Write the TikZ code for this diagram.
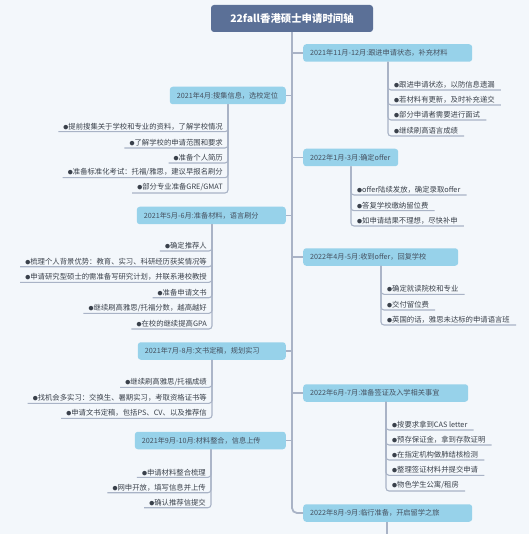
\documentclass[tikz,border=0pt]{standalone}
\usepackage{fontspec}
\setmainfont{Noto Sans CJK SC}
\definecolor{bgc}{HTML}{F3F7FB}
\definecolor{titlec}{HTML}{5B7097}
\definecolor{topicc}{HTML}{97D2EA}
\definecolor{topictext}{HTML}{45505F}
\definecolor{itemtext}{HTML}{3A414B}
\definecolor{linec}{HTML}{A9B3C6}
\newcommand\bul{{\fontsize{5}{5}\selectfont ●}}
\begin{document}
\begin{tikzpicture}[x=1pt,y=-1pt,
  titlebox/.style={fill=titlec, rounded corners=3pt, text=white,
    font=\fontsize{10.4}{12}\selectfont\bfseries, minimum width=162pt,
    minimum height=27pt, inner sep=0pt},
  topic/.style={fill=topicc, rounded corners=3pt, text=topictext,
    font=\fontsize{7.2}{9}\selectfont, minimum height=17.5pt,
    inner xsep=7pt, inner ysep=0pt, align=left},
  ritem/.style={anchor=south west, inner xsep=6pt, inner ysep=1.5pt,
    font=\fontsize{7.35}{8}\selectfont, text=itemtext},
  litem/.style={anchor=south east, inner xsep=5pt, inner ysep=1.5pt,
    font=\fontsize{7.35}{8}\selectfont, text=itemtext},
  branch/.style={draw=linec, line width=1.1pt, rounded corners=3pt},
  trunk/.style={draw=linec, line width=1.8pt, rounded corners=5pt}]
\fill[bgc] (0,0) rectangle (529,534);
\useasboundingbox (0,0) rectangle (529,534);

% title
\node[titlebox] (title) at (292,18.5) {22fall香港硕士申请时间轴};

% topics (right)
\node[topic, anchor=west, text width=155pt] (r1) at (303,53) {2021年11月-12月:跟进申请状态，补充材料};
\node[topic, anchor=west, text width=81pt] (r2) at (303,157.5) {2022年1月-3月:确定offer};
\node[topic, anchor=west, text width=141pt] (r3) at (303,257) {2022年4月-5月:收到offer，回复学校};
\node[topic, anchor=west, text width=151pt] (r4) at (303,393) {2022年6月-7月:准备签证及入学相关事宜};
\node[topic, anchor=west, text width=155pt] (r5) at (303,513) {2022年8月-9月:临行准备，开启留学之旅};
% topics (left)
\node[topic, anchor=east, text width=102pt] (l1) at (286,95.5) {2021年4月:搜集信息，选校定位};
\node[topic, anchor=east, text width=135pt] (l2) at (286,215.5) {2021年5月-6月:准备材料，语言刷分};
\node[topic, anchor=east, text width=134pt] (l3) at (286,351) {2021年7月-8月:文书定稿，规划实习};
\node[topic, anchor=east, text width=137pt] (l4) at (286,440.5) {2021年9月-10月:材料整合，信息上传};

% trunk and branches
\draw[trunk] (title.south) |- (r5.west);
\draw[branch] (title.south |- r1.west) -- (r1.west);
\draw[branch] (title.south |- r2.west) -- (r2.west);
\draw[branch] (title.south |- r3.west) -- (r3.west);
\draw[branch] (title.south |- r4.west) -- (r4.west);
\draw[branch] (title.south |- l1.east) -- (l1.east);
\draw[branch] (title.south |- l2.east) -- (l2.east);
\draw[branch] (title.south |- l3.east) -- (l3.east);
\draw[branch] (title.south |- l4.east) -- (l4.east);

% R1 items
\node[ritem] (r1a) at (388,90) {\bul 跟进申请状态，以防信息遗漏};
\node[ritem] (r1b) at (388,105) {\bul 若材料有更新，及时补充递交};
\node[ritem] (r1c) at (388,120) {\bul 部分申请者需要进行面试};
\node[ritem] (r1d) at (388,136) {\bul 继续刷高语言成绩};
\foreach \i in {r1a,r1b,r1c,r1d}
  \draw[branch] (r1.south -| \i.south west) |- (\i.south east);

% R2 items
\node[ritem] (r2a) at (351,195) {\bul offer陆续发放，确定录取offer};
\node[ritem] (r2b) at (351,210.7) {\bul 答复学校缴纳留位费};
\node[ritem] (r2c) at (351,226) {\bul 如申请结果不理想，尽快补申};
\foreach \i in {r2a,r2b,r2c}
  \draw[branch] (r2.south -| \i.south west) |- (\i.south east);

% R3 items
\node[ritem] (r3a) at (381,294.3) {\bul 确定就读院校和专业};
\node[ritem] (r3b) at (381,310) {\bul 交付留位费};
\node[ritem] (r3c) at (381,325) {\bul 英国的话，雅思未达标的申请语言班};
\foreach \i in {r3a,r3b,r3c}
  \draw[branch] (r3.south -| \i.south west) |- (\i.south east);

% R4 items
\node[ritem] (r4a) at (386,430) {\bul 按要求拿到CAS letter};
\node[ritem] (r4b) at (386,445) {\bul 预存保证金，拿到存款证明};
\node[ritem] (r4c) at (386,460) {\bul 在指定机构做肺结核检测};
\node[ritem] (r4d) at (386,475.3) {\bul 整理签证材料并提交申请};
\node[ritem] (r4e) at (386,491) {\bul 物色学生公寓/租房};
\foreach \i in {r4a,r4b,r4c,r4d,r4e}
  \draw[branch] (r4.south -| \i.south west) |- (\i.south east);

% R5 continuation
\coordinate (r5end) at (387,534);
\draw[branch] (r5.south -| r5end) -- (r5end);

% L1 items
\node[litem] (l1a) at (228,131.7) {\bul 提前搜集关于学校和专业的资料，了解学校情况};
\node[litem] (l1b) at (228,148) {\bul 了解学校的申请范围和要求};
\node[litem] (l1c) at (228,163) {\bul 准备个人简历};
\node[litem] (l1d) at (228,177.7) {\bul 准备标准化考试：托福/雅思，建议早报名刷分};
\node[litem] (l1e) at (228,193) {\bul 部分专业准备GRE/GMAT};
\foreach \i in {l1a,l1b,l1c,l1d,l1e}
  \draw[branch] (l1.south -| \i.south east) |- (\i.south west);

% L2 items
\node[litem] (l2a) at (212,251) {\bul 确定推荐人};
\node[litem] (l2b) at (212,266.7) {\bul 梳理个人背景优势：教育、实习、科研经历获奖情况等};
\node[litem] (l2c) at (212,282.3) {\bul 申请研究型硕士的需准备写研究计划，并联系港校教授};
\node[litem] (l2d) at (212,297.7) {\bul 准备申请文书};
\node[litem] (l2e) at (212,313.3) {\bul 继续刷高雅思/托福分数，越高越好};
\node[litem] (l2f) at (212,329) {\bul 在校的继续提高GPA};
\foreach \i in {l2a,l2b,l2c,l2d,l2e,l2f}
  \draw[branch] (l2.south -| \i.south east) |- (\i.south west);

% L3 items
\node[litem] (l3a) at (212,387.3) {\bul 继续刷高雅思/托福成绩};
\node[litem] (l3b) at (212,403.3) {\bul 找机会多实习：交换生、暑期实习，考取资格证书等};
\node[litem] (l3c) at (212,418.3) {\bul 申请文书定稿，包括PS、CV、以及推荐信};
\foreach \i in {l3a,l3b,l3c}
  \draw[branch] (l3.south -| \i.south east) |- (\i.south west);

% L4 items
\node[litem] (l4a) at (211,477.3) {\bul 申请材料整合梳理};
\node[litem] (l4b) at (211,492.7) {\bul 网申开放，填写信息并上传};
\node[litem] (l4c) at (211,507.7) {\bul 确认推荐信提交};
\foreach \i in {l4a,l4b,l4c}
  \draw[branch] (l4.south -| \i.south east) |- (\i.south west);
\end{tikzpicture}
\end{document}
